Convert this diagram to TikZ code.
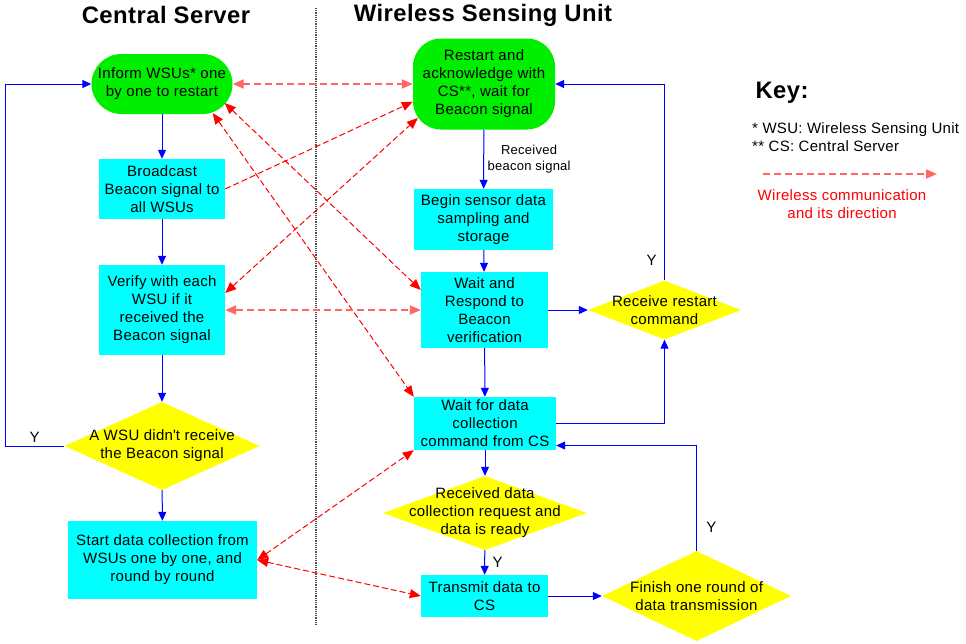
\documentclass[tikz,border=0pt]{standalone}
\usepackage{fontspec}
\setmainfont{Liberation Sans}[LetterSpace=2]
\usetikzlibrary{shapes.geometric,arrows.meta}
\definecolor{termgreen}{RGB}{0,238,0}
\definecolor{proccyan}{RGB}{0,255,255}
\definecolor{decyellow}{RGB}{255,255,0}

\begin{document}
\begin{tikzpicture}[x=1pt, y=-1pt, font=\fontsize{15}{18}\selectfont]
  \tikzstyle{terminal}=[rectangle, fill=termgreen, align=center, inner sep=1.5pt]
  \tikzstyle{process}=[rectangle, fill=proccyan, align=center, inner sep=1.5pt]
  \tikzstyle{decision}=[diamond, fill=decyellow, align=center, inner sep=-40pt]
  \tikzstyle{title}=[font=\bfseries\fontsize{23.8}{28}\selectfont]
  \tikzstyle{flow}=[blue, text=black, line width=1pt, >={Triangle[length=9pt,width=8pt]}, ->]
  \tikzstyle{radio}=[red, line width=1pt, dash pattern=on 6pt off 3pt, >={Triangle[length=11pt,width=9pt]}]
  \tikzstyle{radiofaint}=[radio, red!60, line width=1.8pt, dash pattern=on 7pt off 4pt]
  \useasboundingbox (0,0) rectangle (966,643);

  \node[title] (cstitle) at (166,15) {Central Server};
  \node[title] (wsutitle) at (483,15) {Wireless Sensing Unit};
  \draw[gray!60!black, densely dotted, line width=1.2pt] (316,8) -- (316,626);

  \node[terminal, minimum width=141pt, minimum height=60pt, rounded corners=30pt] (inform) at (162,84) {Inform WSUs* one\\by one to restart};
  \node[process, minimum width=126pt, minimum height=60pt] (bcast) at (162,189) {Broadcast\\Beacon signal to\\all WSUs};
  \node[process, minimum width=126pt, minimum height=90pt] (verify) at (162,310) {Verify with each\\WSU if it\\received the\\Beacon signal};
  \node[decision, minimum width=195pt, minimum height=88pt] (missed) at (162,446) {A WSU didn\textquotesingle t receive\\the Beacon signal};
  \node[process, minimum width=189pt, minimum height=78pt] (collect) at (162.5,560) {Start data collection from\\WSUs one by one, and\\round by round};

  \node[terminal, minimum width=142pt, minimum height=91pt, rounded corners=28pt] (restart) at (484,84) {Restart and\\acknowledge with\\CS**, wait for\\Beacon signal};
  \node[process, minimum width=139pt, minimum height=61pt] (sample) at (483.5,219.5) {Begin sensor data\\sampling and\\storage};
  \node[process, minimum width=127pt, minimum height=76pt] (respond) at (484.5,310) {Wait and\\Respond to\\Beacon\\verification};
  \node[decision, minimum width=153pt, minimum height=59pt] (restartcmd) at (664.5,310) {Receive restart\\command};
  \node[process, minimum width=142pt, minimum height=53pt] (waitcmd) at (485,423.5) {Wait for data\\collection\\command from CS};
  \node[decision, minimum width=204pt, minimum height=74pt] (ready) at (485,513) {Received data\\collection request and\\data is ready};
  \node[process, minimum width=127pt, minimum height=42pt] (transmit) at (484.5,596) {Transmit data to\\CS};
  \node[decision, minimum width=189pt, minimum height=90pt] (roundend) at (696.5,596) {Finish one round of\\data transmission};

  \node[title, anchor=west] (keytitle) at (752,93) {Key:};
  \node[anchor=west, align=left, inner sep=0pt] (keytext) at (752,137) {* WSU: Wireless Sensing Unit\\** CS: Central Server};
  \coordinate (keyfrom) at (763,174);
  \coordinate (keyto) at (937,174);
  \node[red, align=center] (keylabel) at (842,204.5) {Wireless communication\\and its direction};

  \coordinate (loopleft) at (5,84);
  \draw[flow] (inform) -- (bcast);
  \draw[flow] (bcast) -- (verify);
  \draw[flow] (verify) -- (missed);
  \draw[flow] (missed) -- (collect);
  \draw[flow] (missed.west) -| node[pos=0.25, above] {Y} (loopleft) -- (inform.west);

  \draw[flow] (restart) -- node[right, align=center, font=\fontsize{13}{15.5}\selectfont] {Received\\beacon signal} (sample);
  \draw[flow] (sample) -- (respond);
  \draw[flow] (respond) -- (restartcmd);
  \draw[flow] (respond) -- (waitcmd);
  \draw[flow] (restartcmd.north) |- node[pos=0.05, left, xshift=-4pt] {Y} (restart.east);
  \draw[flow] (waitcmd.east) -| (restartcmd.south);
  \draw[flow] (waitcmd) -- (ready);
  \draw[flow] (ready) -- node[right, xshift=4pt] {Y} (transmit);
  \draw[flow] (transmit) -- (roundend);
  \draw[flow] (roundend.north) |- node[pos=0.11, right, xshift=6pt] {Y} ([yshift=-22pt]waitcmd.east);

  \draw[radiofaint, <->] (inform.east) -- (restart.west);
  \draw[radio, ->] (bcast.east) -- (restart.194);
  \draw[radio, <->] ([yshift=17pt]verify.east) -- ([xshift=5pt,yshift=-34pt]restart.west);
  \draw[radio, <->] ([xshift=-8pt,yshift=-19pt]inform.east) -- ([yshift=20pt]respond.west);
  \draw[radio, <->] ([xshift=-20pt,yshift=-29pt]inform.east) -- (waitcmd.north west);
  \draw[radiofaint, <->] (verify.east) -- (respond.west);
  \draw[radio, <->] (collect.east) -- (waitcmd.south west);
  \draw[radio, <->] (collect.east) -- (transmit.west);
  \draw[radiofaint, ->] (keyfrom) -- (keyto);
\end{tikzpicture}
\end{document}
